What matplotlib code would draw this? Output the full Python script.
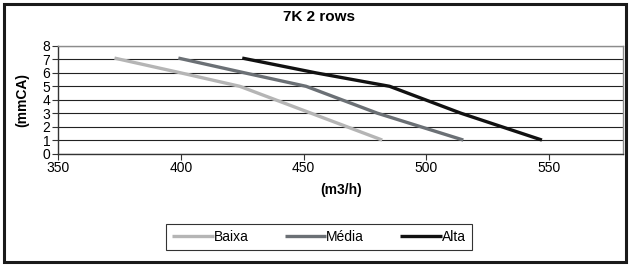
import matplotlib
matplotlib.use('Agg')
import matplotlib.pyplot as plt
from matplotlib.patches import Rectangle

plt.rcParams['font.family'] = ['Liberation Sans', 'DejaVu Sans']
plt.rcParams['font.size'] = 10

# (m3/h) vs (mmCA) for each fan speed
baixa_x = [373, 400, 424, 453, 482]
baixa_y = [7.1, 6, 5, 3, 1]
media_x = [399, 426, 451, 480, 515]
media_y = [7.1, 6, 5, 3, 1]
alta_x = [425, 455, 485, 514, 547]
alta_y = [7.1, 6, 5, 3, 1]

series = [('Baixa', baixa_x, baixa_y, '#b5b5b5'),
          ('Média', media_x, media_y, '#6b7075'),
          ('Alta', alta_x, alta_y, '#111111')]

x_ticks = [350, 400, 450, 500, 550]
y_ticks = list(range(0, 9))

W, H = 629, 266
fig = plt.figure(figsize=(W / 100, H / 100), dpi=100)
fig.patch.set_facecolor('white')
fig.add_artist(Rectangle((4 / W, 4 / H), 622 / W, 258 / H, transform=fig.transFigure,
                         fill=False, edgecolor='#1a1a1a', linewidth=2.2))

ax = fig.add_axes([58 / W, 1 - 153.5 / H, 565 / W, 107.5 / H])
for name, xs, ys, c in series:
    ax.plot(xs, ys, color=c, linewidth=2.4, label=name, solid_capstyle='butt')

ax.set_xlim(350, 580)
ax.set_ylim(0, 8)
ax.set_xticks(x_ticks)
ax.set_yticks(y_ticks)
ax.yaxis.grid(True, color='#222222', linewidth=0.8)
ax.set_axisbelow(True)
ax.tick_params(direction='out', length=4, width=0.8, color='#333333', labelsize=10, pad=1.5)
for s in ['top', 'right']:
    ax.spines[s].set_color('#8c8c8c')
    ax.spines[s].set_linewidth(1.0)
for s in ['left', 'bottom']:
    ax.spines[s].set_color('#333333')
    ax.spines[s].set_linewidth(1.0)

fig.text(319 / W, 1 - 17 / H, '7K 2 rows', ha='center', va='center', fontsize=11, fontweight='bold')
fig.text(22 / W, 1 - 100 / H, '(mmCA)', ha='center', va='center', rotation=90, fontsize=10, fontweight='bold')
fig.text(341 / W, 1 - 190 / H, '(m3/h)', ha='center', va='center', fontsize=10, fontweight='bold')

leg = fig.legend(loc='center', bbox_to_anchor=(319 / W, 1 - 237 / H), ncol=3, fontsize=10,
                 frameon=True, fancybox=False, edgecolor='black', handlelength=3.0,
                 handletextpad=0.0, columnspacing=2.6, borderpad=0.45)
leg.get_frame().set_linewidth(0.8)

fig.savefig('out.png', dpi=100)
